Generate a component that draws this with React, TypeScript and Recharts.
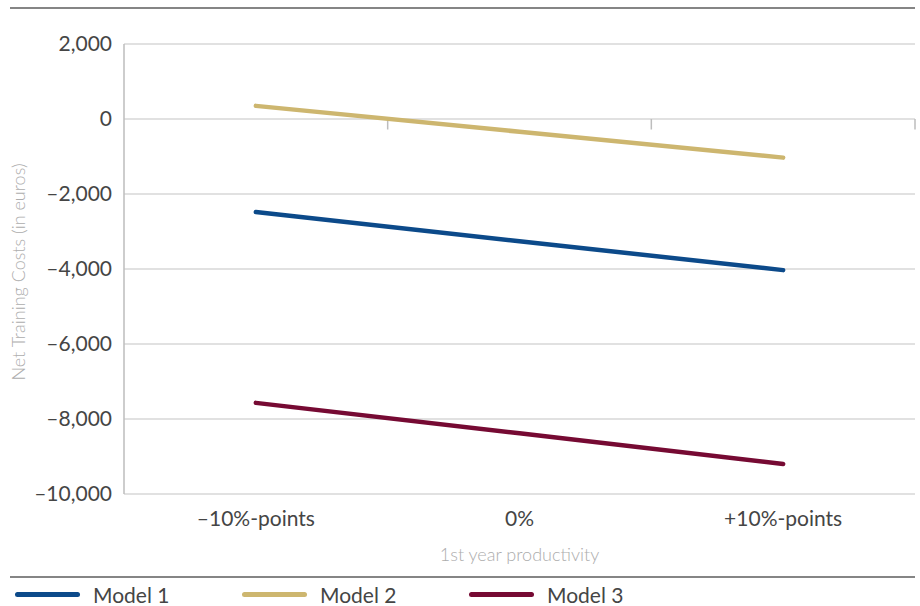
import { Label, Line, LineChart, CartesianGrid, ReferenceLine, XAxis, YAxis } from "recharts";

const categories = ["–10%-points", "0%", "+10%-points"];
const model1 = [-2480, -3260, -4030];
const model2 = [350, -340, -1030];
const model3 = [-7570, -8380, -9200];
const yTicks = [2000, 0, -2000, -4000, -6000, -8000, -10000];

const series = [
  { key: "model1", name: "Model 1", color: "#0c4a8a" },
  { key: "model2", name: "Model 2", color: "#cdb66f" },
  { key: "model3", name: "Model 3", color: "#760a33" },
];

const data = categories.map((label, i) => ({
  x: i,
  label,
  model1: model1[i],
  model2: model2[i],
  model3: model3[i],
}));

// category boundaries, drawn as small tick marks hanging off the zero line
const boundaries = categories.map((_, i) => i + 0.5);

const FONT = "Lato, 'Open Sans', sans-serif";

const fmt = (v: number) => {
  const s = Math.abs(v).toLocaleString("en-US");
  return v < 0 ? `–${s}` : s;
};

function YTitle(props: any) {
  const vb = props.viewBox || {};
  const cy = vb.y + vb.height / 2 + 3;
  return (
    <text
      x={18}
      y={cy}
      transform={`rotate(-90, 18, ${cy})`}
      textAnchor="middle"
      dominantBaseline="central"
      fill="#adadad"
      fontSize={18}
      fontWeight={300}
      fontFamily={FONT}
    >
      Net Training Costs (in euros)
    </text>
  );
}

export default function App() {
  return (
    <div style={{ position: "absolute", left: 0, top: 0, width: 920, height: 606, background: "#fff", fontFamily: FONT }}>
      <div style={{ position: "absolute", left: 10, top: 7, width: 905, height: 2, background: "#858585" }} />
      <LineChart width={920} height={606} data={data} margin={{ top: 44, right: 5, bottom: 42, left: 0 }}>
        <CartesianGrid vertical={false} stroke="#c4c4c4" strokeWidth={1.2} />
        <XAxis
          dataKey="x"
          type="number"
          domain={[-0.5, 2.5]}
          ticks={[0, 1, 2]}
          tickFormatter={(v: number) => categories[v]}
          axisLine={false}
          tickLine={false}
          tickSize={0}
          tickMargin={17}
          height={70}
          tick={{ fontSize: 21, fill: "#454545", fontFamily: FONT }}
        >
          <Label
            value="1st year productivity"
            position="insideBottom"
            offset={3}
            fill="#adadad"
            fontSize={18}
            fontWeight={300}
            fontFamily={FONT}
          />
        </XAxis>
        <YAxis
          domain={[-10000, 2000]}
          ticks={yTicks}
          tickFormatter={fmt}
          width={124}
          axisLine={{ stroke: "#bdbdbd", strokeWidth: 1.5 }}
          tickLine={false}
          tickSize={0}
          tickMargin={12}
          tick={{ fontSize: 21, fill: "#454545", fontFamily: FONT }}
        >
          <Label content={<YTitle />} />
        </YAxis>
        {boundaries.map((b) => (
          <ReferenceLine
            key={b}
            segment={[
              { x: b, y: 0 },
              { x: b, y: -280 },
            ]}
            stroke="#bdbdbd"
            strokeWidth={1.5}
          />
        ))}
        {series.map((s) => (
          <Line
            key={s.key}
            type="linear"
            dataKey={s.key}
            name={s.name}
            stroke={s.color}
            strokeWidth={4.5}
            strokeLinecap="round"
            dot={false}
            activeDot={false}
            isAnimationActive={false}
          />
        ))}
      </LineChart>
      <div style={{ position: "absolute", left: 10, top: 576, width: 905, height: 2, background: "#858585" }} />
      {series.map((s, i) => (
        <div
          key={s.key}
          style={{ position: "absolute", left: 15 + i * 227, top: 582, height: 24, display: "flex", alignItems: "center" }}
        >
          <div style={{ width: 65, height: 5, borderRadius: 3, background: s.color }} />
          <span style={{ marginLeft: 13, fontSize: 21, color: "#454545", fontFamily: FONT }}>{s.name}</span>
        </div>
      ))}
    </div>
  );
}
